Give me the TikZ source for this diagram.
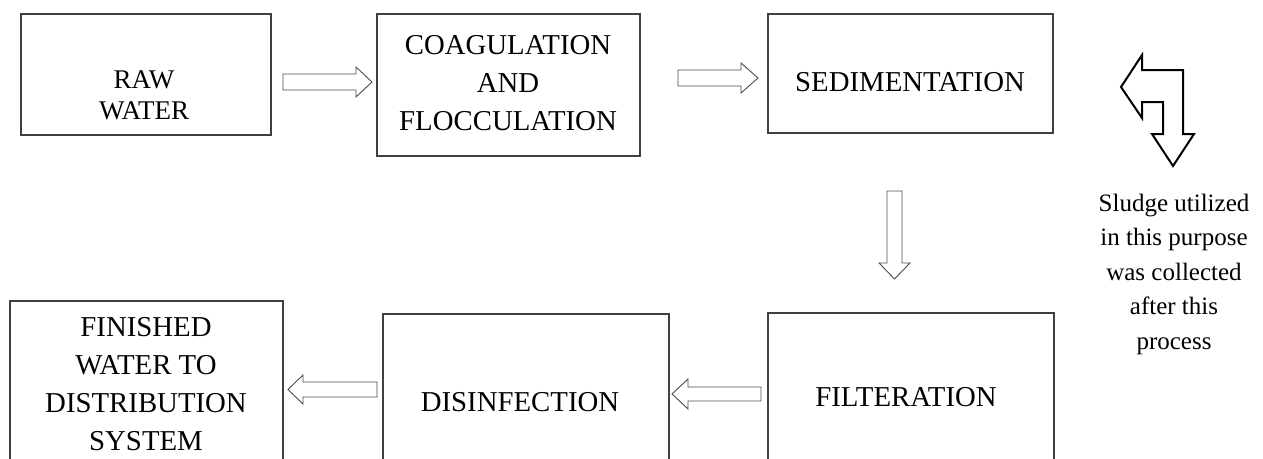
\documentclass[tikz,border=0pt]{standalone}
\usepackage{fontspec}
\setmainfont{Liberation Serif}
\begin{document}
\begin{tikzpicture}[x=1pt,y=-1pt,
  boxstyle/.style={draw=black!75,line width=1.4pt},
  blockarrow/.style={draw=black!70,line width=0.9pt,line join=miter},
  bentarrow/.style={draw=black,line width=2pt,line join=miter},
  lbl/.style={align=center,inner sep=0pt,font=\fontsize{28.8}{38}\selectfont},
  note/.style={align=center,inner sep=0pt,font=\fontsize{25}{34.5}\selectfont}]
\useasboundingbox (0,0) rectangle (1263,458);
\clip (0,0) rectangle (1263,458);
% boxes
\draw[boxstyle] (21,14) rectangle (271,135) coordinate (rawbr);
\draw[boxstyle] (377,14) rectangle (640,156);
\draw[boxstyle] (768,14) rectangle (1053,133);
\draw[boxstyle] (10,301) rectangle (283,520);
\draw[boxstyle] (383,314) rectangle (669,520);
\draw[boxstyle] (768,313) rectangle (1054,520);
% texts
\node[lbl,font=\fontsize{27}{31}\selectfont] (raw) at (144,95) {RAW\\WATER};
\node[lbl] (coag) at (508,83) {COAGULATION\\AND\\FLOCCULATION};
\node[lbl] (sed) at (910,82) {SEDIMENTATION};
\node[lbl] (fin) at (146,384) {FINISHED\\WATER TO\\DISTRIBUTION\\SYSTEM};
\node[lbl] (dis) at (520,402) {DISINFECTION};
\node[lbl] (fil) at (906,397) {FILTERATION};
\node[note] (sludge) at (1174,274) {Sludge utilized\\in this purpose\\was collected\\after this\\process};
% block arrows
\draw[blockarrow] (283,74) -- (356,74) -- (356,67) -- (372,82) -- (356,97) -- (356,90) -- (283,90) -- cycle;
\draw[blockarrow] (678,70) -- (741,70) -- (741,63) -- (758,78) -- (741,93) -- (741,86) -- (678,86) -- cycle;
\draw[blockarrow] (887,191) -- (902,191) -- (902,263) -- (910,263) -- (894.5,279) -- (879,263) -- (887,263) -- cycle;
\draw[blockarrow] (377,382) -- (303,382) -- (303,375) -- (288,389.5) -- (303,404) -- (303,397) -- (377,397) -- cycle;
\draw[blockarrow] (761,387) -- (688,387) -- (688,379) -- (672,394) -- (688,409) -- (688,401) -- (761,401) -- cycle;
% bent arrow
\draw[bentarrow] (1121,87) -- (1142,55) -- (1142,70) -- (1183,70) -- (1183,134) -- (1194,134) -- (1173,166) -- (1152,134) -- (1163,134) -- (1163,102) -- (1142,102) -- (1142,118) -- cycle;
\end{tikzpicture}
\end{document}
